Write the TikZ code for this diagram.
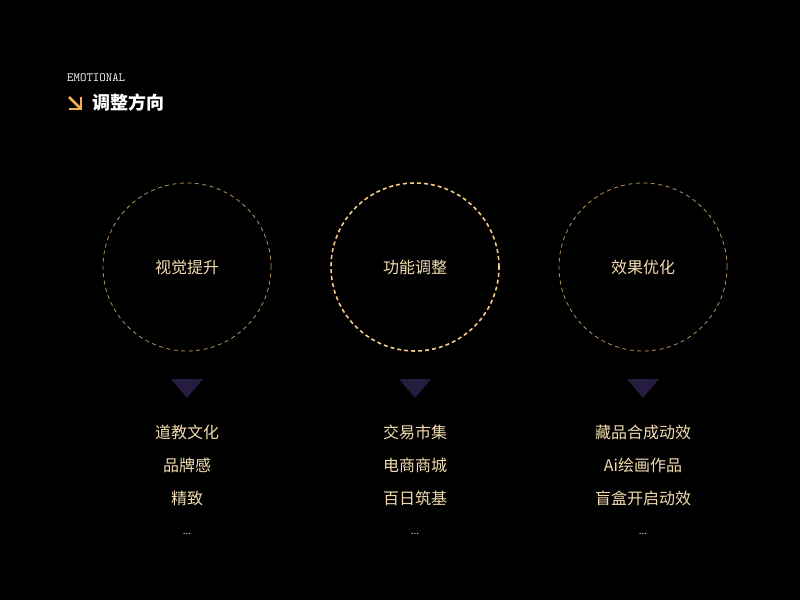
\documentclass[tikz,border=0pt]{standalone}
\usepackage{fontspec}
\setmainfont{Noto Sans CJK SC}
\newfontfamily\cjk{Noto Sans CJK SC}
\setmonofont{Latin Modern Mono}
\usetikzlibrary{positioning, calc}
\definecolor{goldtxt}{HTML}{F2DCAE}
\definecolor{golddim}{HTML}{B8925A}
\definecolor{goldlit}{HTML}{F6CA80}
\definecolor{arrorange}{HTML}{F4B050}
\definecolor{tripurple}{HTML}{251C40}
\tikzset{
  ringdim/.style={circle, draw=golddim, line width=0.8pt, dash pattern=on 4pt off 3.5pt,
                  minimum size=168pt, inner sep=0pt, font=\cjk\fontsize{16}{16}\selectfont, text=goldtxt},
  ringlit/.style={ringdim, draw=goldlit, line width=1.6pt, dash pattern=on 4pt off 3pt},
  itemtxt/.style={font=\cjk\fontsize{16}{16}\selectfont, text=goldtxt, inner sep=0pt},
  moretxt/.style={font=\fontsize{10}{10}\selectfont, text=goldtxt, inner sep=0pt},
  trimark/.style={fill=tripurple},
  eyebrow/.style={font=\ttfamily\fontsize{12.5}{12.5}\selectfont, text=white, anchor=west, inner sep=0pt},
  headtxt/.style={font=\cjk\bfseries\fontsize{18}{18}\selectfont, text=white, anchor=west, inner sep=0pt},
}

\begin{document}
\begin{tikzpicture}[x=1pt, y=-1pt]

\fill[black] (0,0) rectangle (800,600);
\useasboundingbox (0,0) rectangle (800,600);

% header
\node[eyebrow] (eyebrow) at (67,78) {EMOTIONAL};
\coordinate (icon) at (75,103);
\draw[arrorange, line width=2.6pt] ($(icon)+(-6,-6)$) -- ($(icon)+(5,5)$);
\draw[arrorange, line width=2.6pt] ($(icon)+(-6,6)$) -- ($(icon)+(6,6)$) -- ($(icon)+(6,-6)$);
\node[headtxt] (title) at (92,103) {调整方向};

% circles
\node[ringdim] (c1) at (187,267) {视觉提升};
\node[ringlit] (c2) at (415,267) {功能调整};
\node[ringdim] (c3) at (643,267) {效果优化};

% markers
\foreach \i/\x in {1/187, 2/415, 3/643}{
  \coordinate (tri\i) at (\x,379);
  \fill[trimark] ($(tri\i)+(-16,0)$) -- ($(tri\i)+(16,0)$) -- ($(tri\i)+(0,19)$) -- cycle;
}

% column 1
\node[itemtxt] (a1) at (187,432) {道教文化};
\node[itemtxt] (a2) at (187,465) {品牌感};
\node[itemtxt] (a3) at (187,498) {精致};
\node[moretxt] (a4) at (187,534) {...};

% column 2
\node[itemtxt] (b1) at (415,432) {交易市集};
\node[itemtxt] (b2) at (415,465) {电商商城};
\node[itemtxt] (b3) at (415,498) {百日筑基};
\node[moretxt] (b4) at (415,534) {...};

% column 3
\node[itemtxt] (d1) at (643,432) {藏品合成动效};
\node[itemtxt] (d2) at (643,465) {Ai绘画作品};
\node[itemtxt] (d3) at (643,498) {盲盒开启动效};
\node[moretxt] (d4) at (643,534) {...};

\end{tikzpicture}
\end{document}
